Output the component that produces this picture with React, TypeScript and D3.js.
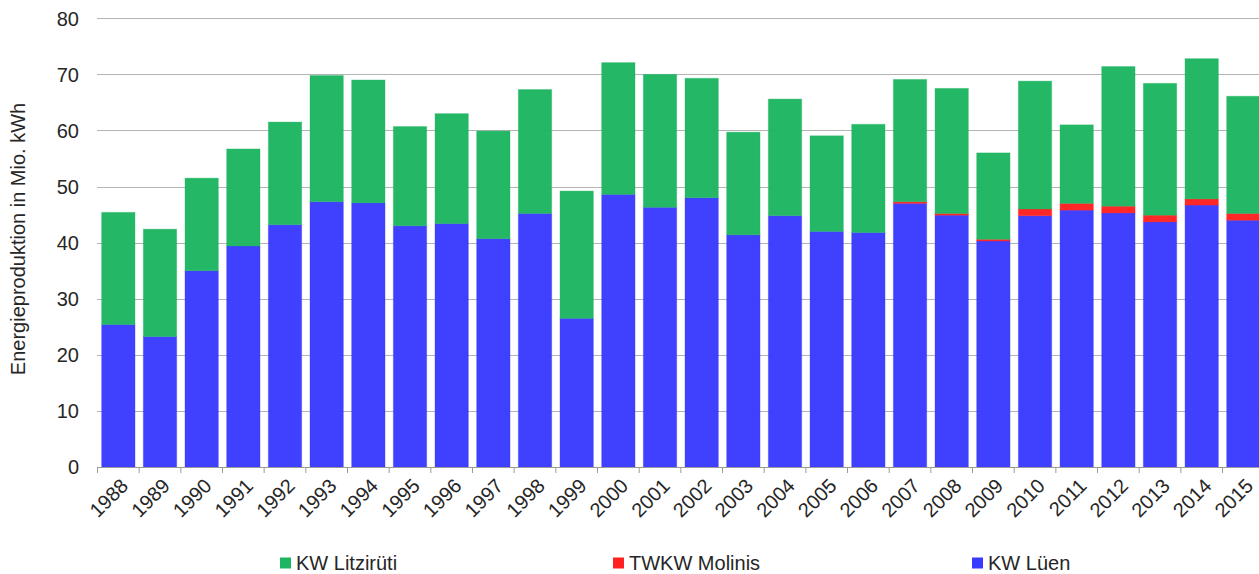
import { useEffect, useRef } from 'react'
import * as d3 from 'd3'

const YEARS = [
  '1988', '1989', '1990', '1991', '1992', '1993', '1994', '1995', '1996', '1997',
  '1998', '1999', '2000', '2001', '2002', '2003', '2004', '2005', '2006', '2007',
  '2008', '2009', '2010', '2011', '2012', '2013', '2014', '2015',
]

// Mio. kWh per plant
const KW_LUEN = [
  25.4, 23.25, 35.0, 39.4, 43.2, 47.3, 47.1, 43.0, 43.4, 40.7,
  45.2, 26.5, 48.6, 46.3, 48.0, 41.4, 44.8, 42.0, 41.8, 47.0,
  44.9, 40.3, 44.8, 45.8, 45.3, 43.7, 46.7, 44.0,
]
const TWKW_MOLINIS = [
  0, 0, 0, 0, 0, 0, 0, 0, 0, 0,
  0, 0, 0, 0, 0, 0, 0, 0, 0, 0.3,
  0.3, 0.3, 1.2, 1.2, 1.2, 1.2, 1.1, 1.2,
]
const KW_LITZIRUETI = [
  20.0, 19.15, 16.5, 17.3, 18.3, 22.5, 21.9, 17.7, 19.6, 19.2,
  22.1, 22.7, 23.5, 23.7, 21.3, 18.3, 20.8, 17.05, 19.3, 21.8,
  22.3, 15.4, 22.8, 14.0, 24.9, 23.5, 25.0, 20.9,
]

const Y_TICKS = [0, 10, 20, 30, 40, 50, 60, 70, 80]

const SERIES = [
  { key: 'luen', label: 'KW Lüen', color: '#3a3aff', values: KW_LUEN },
  { key: 'molinis', label: 'TWKW Molinis', color: '#ff2020', values: TWKW_MOLINIS },
  { key: 'litz', label: 'KW Litzirüti', color: '#1db561', values: KW_LITZIRUETI },
]

const LEGEND_ORDER = ['litz', 'molinis', 'luen']
const LEGEND_X = [280, 613, 972]

const FONT = '"Liberation Sans", Arial, sans-serif'

export default function App() {
  const svgRef = useRef<SVGSVGElement>(null)

  useEffect(() => {
    document.body.style.margin = '0'
    const svgEl = svgRef.current
    if (!svgEl) return
    const W = 1259
    const H = 574
    const svg = d3.select(svgEl)
    svg.selectAll('*').remove()
    svg.attr('width', W).attr('height', H)

    const x = d3.scaleBand<string>().domain(YEARS).range([97.5, 1264.2])
      .paddingInner(0.2).paddingOuter(0.1)
    const y = d3.scaleLinear().domain([0, 80]).range([467, 18.3])

    // gridlines
    svg.append('g').selectAll('line')
      .data(Y_TICKS.filter(t => t > 0)).enter().append('line')
      .attr('x1', 97).attr('x2', W)
      .attr('y1', t => Math.round(y(t)) + 0.5).attr('y2', t => Math.round(y(t)) + 0.5)
      .attr('stroke', '#b4b4b4').attr('stroke-width', 1)

    // y tick labels
    svg.append('g').selectAll('text')
      .data(Y_TICKS).enter().append('text')
      .attr('x', 79).attr('y', t => y(t))
      .attr('dy', '0.36em')
      .attr('text-anchor', 'end')
      .attr('font-family', FONT).attr('font-size', 20).attr('fill', '#262626')
      .text(t => t)

    // stacked bars
    const rows = YEARS.map((yr, i) => {
      const r: Record<string, number | string> = { year: yr }
      SERIES.forEach(s => { r[s.key] = s.values[i] })
      return r
    })
    const stack = d3.stack<Record<string, number | string>>()
      .keys(SERIES.map(s => s.key))
      .value((d, k) => d[k] as number)
    const layers = stack(rows)

    layers.forEach((layer, li) => {
      const s = SERIES[li]
      svg.append('g').selectAll('rect')
        .data(layer.filter(d => d[1] - d[0] > 0)).enter().append('rect')
        .attr('x', d => x(d.data.year as string)!)
        .attr('width', x.bandwidth())
        .attr('y', d => y(d[1]))
        .attr('height', d => y(d[0]) - y(d[1]))
        .attr('fill', s.color).attr('fill-opacity', 0.97)
        .attr('stroke', s.color).attr('stroke-opacity', 0.35).attr('stroke-width', 1)
    })

    // x axis line + ticks at band boundaries
    const step = x.step()
    const x0 = 97.5
    svg.append('line')
      .attr('x1', 97).attr('x2', W).attr('y1', 467.5).attr('y2', 467.5)
      .attr('stroke', '#9a9a9a').attr('stroke-width', 1)
    svg.append('g').selectAll('line')
      .data(d3.range(YEARS.length + 1)).enter().append('line')
      .attr('x1', i => x0 + i * step).attr('x2', i => x0 + i * step)
      .attr('y1', 467).attr('y2', 473)
      .attr('stroke', '#9a9a9a').attr('stroke-width', 1)

    // year labels
    svg.append('g').selectAll('text')
      .data(YEARS).enter().append('text')
      .attr('transform', d => `translate(${x(d)! + x.bandwidth() / 2 + 6},${482}) rotate(-45)`)
      .attr('text-anchor', 'end')
      .attr('dy', '0.36em')
      .attr('font-family', FONT).attr('font-size', 20).attr('fill', '#262626')
      .text(d => d)

    // y axis title
    svg.append('text')
      .attr('transform', `translate(18,${239}) rotate(-90)`)
      .attr('text-anchor', 'middle').attr('dy', '0.36em')
      .attr('font-family', FONT).attr('font-size', 20).attr('fill', '#262626')
      .text('Energieproduktion in Mio. kWh')

    // legend
    LEGEND_ORDER.forEach((k, i) => {
      const s = SERIES.find(d => d.key === k)!
      const g = svg.append('g').attr('transform', `translate(${LEGEND_X[i]},563)`)
      g.append('rect').attr('x', 0).attr('y', -5.5).attr('width', 11).attr('height', 11)
        .attr('fill', s.color)
      g.append('text').attr('x', 16).attr('y', 0).attr('dy', '0.36em')
        .attr('font-family', FONT).attr('font-size', 20).attr('fill', '#262626')
        .text(s.label)
    })
  }, [])

  return <svg ref={svgRef} style={{ display: 'block' }} />
}
